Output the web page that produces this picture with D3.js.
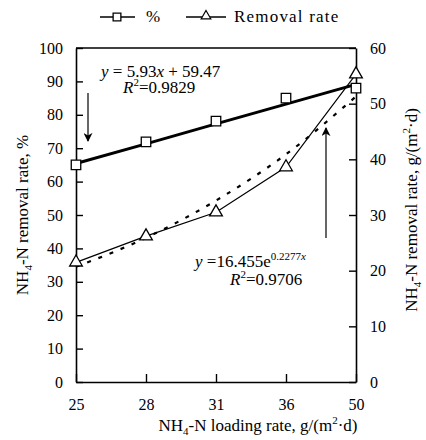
<!DOCTYPE html>
<html>
<head>
<meta charset="utf-8">
<script src="https://cdn.jsdelivr.net/npm/d3@7"></script>
<style>
  body { margin: 0; background: #fff; }
  svg, svg text { font-family: "Liberation Serif", "Times New Roman", serif; }
</style>
</head>
<body>
<svg id="chart" width="426" height="440" font-family="Liberation Serif"></svg>
<script>
// loading rate categories, g/(m2.d)
var loading = ["25", "28", "31", "36", "50"];
// NH4-N removal rate, %
var removalPct = [65.0, 71.9, 78.1, 85.0, 88.0];
// linear fit y = 5.93x + 59.47 read at each category
var pctFit = [65.4, 71.3, 77.3, 83.2, 89.1];
// NH4-N removal rate, g/(m2.d)
var removalRate = [21.5, 26.2, 30.5, 38.6, 55.3];
// exponential fit y = 16.455e^0.2277x read at each category
var rateFit = [20.7, 25.9, 32.6, 40.9, 51.3];
var leftTicks = [0, 10, 20, 30, 40, 50, 60, 70, 80, 90, 100];
var rightTicks = [0, 10, 20, 30, 40, 50, 60];

var serif = "Liberation Serif";
var svg = d3.select("#chart");
var plotL = 76, plotR = 356, plotT = 48, plotB = 382;

var x = d3.scalePoint().domain(loading).range([plotL, plotR]);
var yL = d3.scaleLinear().domain([0, 100]).range([plotB, plotT]);
var yR = d3.scaleLinear().domain([0, 60]).range([plotB, plotT]);

function styleAxis(g) {
    g.attr("font-family", serif);
    g.selectAll("path").attr("stroke", "#000").attr("stroke-width", 1.6);
    g.selectAll("line").attr("stroke", "#000").attr("stroke-width", 1.4);
    g.selectAll("text").attr("font-family", serif).attr("font-size", 16).attr("fill", "#000");
}

svg.append("g")
    .attr("transform", "translate(" + plotL + ",0)")
    .call(d3.axisLeft(yL).tickValues(leftTicks).tickSizeInner(-7).tickSizeOuter(0).tickPadding(13))
    .call(styleAxis);

svg.append("g")
    .attr("transform", "translate(" + plotR + ",0)")
    .call(d3.axisRight(yR).tickValues(rightTicks).tickSizeInner(-7).tickSizeOuter(0).tickPadding(14))
    .call(styleAxis);

svg.append("g")
    .attr("transform", "translate(0," + plotB + ")")
    .call(d3.axisBottom(x).tickSizeInner(-8).tickSizeOuter(0).tickPadding(17))
    .call(styleAxis);

// top border
svg.append("line")
    .attr("x1", plotL).attr("x2", plotR)
    .attr("y1", plotT).attr("y2", plotT)
    .attr("stroke", "#000").attr("stroke-width", 1.6);

var idx = d3.range(loading.length);

// fitted lines
svg.append("path")
    .attr("d", d3.line().x(function (i) { return x(loading[i]); }).y(function (i) { return yL(pctFit[i]); })(idx))
    .attr("fill", "none").attr("stroke", "#000").attr("stroke-width", 3);

svg.append("path")
    .attr("d", d3.line().curve(d3.curveMonotoneX).x(function (i) { return x(loading[i]); }).y(function (i) { return yR(rateFit[i]); })(idx))
    .attr("fill", "none").attr("stroke", "#000").attr("stroke-width", 2.2)
    .attr("stroke-dasharray", "4,8");

// removal rate data line
svg.append("path")
    .attr("d", d3.line().x(function (i) { return x(loading[i]); }).y(function (i) { return yR(removalRate[i]); })(idx))
    .attr("fill", "none").attr("stroke", "#000").attr("stroke-width", 1.2);

var square = d3.symbol().type(d3.symbolSquare).size(90);
var triangle = d3.symbol().type(d3.symbolTriangle).size(70);

svg.selectAll(".sq").data(idx).join("path")
    .attr("class", "sq")
    .attr("d", square)
    .attr("transform", function (i) { return "translate(" + x(loading[i]) + "," + yL(removalPct[i]) + ")"; })
    .attr("fill", "#fff").attr("stroke", "#000").attr("stroke-width", 1.3);

svg.selectAll(".tri").data(idx).join("path")
    .attr("class", "tri")
    .attr("d", triangle)
    .attr("transform", function (i) { return "translate(" + x(loading[i]) + "," + yR(removalRate[i]) + ")"; })
    .attr("fill", "#fff").attr("stroke", "#000").attr("stroke-width", 1.3);

// legend
var legend = svg.append("g").attr("font-family", serif);
legend.append("line").attr("x1", 100).attr("x2", 135).attr("y1", 17).attr("y2", 17).attr("stroke", "#000").attr("stroke-width", 1.5);
legend.append("path").attr("d", d3.symbol().type(d3.symbolSquare).size(60)).attr("transform", "translate(117,17)")
    .attr("fill", "#fff").attr("stroke", "#000").attr("stroke-width", 1.3);
legend.append("text").attr("x", 146).attr("y", 22).attr("font-size", 17).text("%");
legend.append("line").attr("x1", 186).attr("x2", 226).attr("y1", 17).attr("y2", 17).attr("stroke", "#000").attr("stroke-width", 1.5);
legend.append("path").attr("d", d3.symbol().type(d3.symbolTriangle).size(40)).attr("transform", "translate(206,16)")
    .attr("fill", "#fff").attr("stroke", "#000").attr("stroke-width", 1.2);
legend.append("text").attr("x", 234).attr("y", 22).attr("font-size", 17).attr("letter-spacing", 1.2).text("Removal rate");

// axis titles
var xt = svg.append("text").attr("x", 258).attr("y", 431).attr("text-anchor", "middle").attr("font-size", 17);
xt.append("tspan").text("NH");
xt.append("tspan").attr("font-size", 11).attr("dy", 4).text("4");
xt.append("tspan").attr("dy", -4).text("-N loading rate, g/(m");
xt.append("tspan").attr("font-size", 11).attr("dy", -7).text("2");
xt.append("tspan").attr("dy", 7).text("·d)");

var ylt = svg.append("text").attr("transform", "translate(28,215) rotate(-90)").attr("text-anchor", "middle").attr("font-size", 17);
ylt.append("tspan").text("NH");
ylt.append("tspan").attr("font-size", 11).attr("dy", 4).text("4");
ylt.append("tspan").attr("dy", -4).text("-N removal rate, %");

var yrt = svg.append("text").attr("transform", "translate(417,210) rotate(-90)").attr("text-anchor", "middle").attr("font-size", 17);
yrt.append("tspan").text("NH");
yrt.append("tspan").attr("font-size", 11).attr("dy", 4).text("4");
yrt.append("tspan").attr("dy", -4).text("-N removal rate, g/(m");
yrt.append("tspan").attr("font-size", 11).attr("dy", -7).text("2");
yrt.append("tspan").attr("dy", 7).text("·d)");

// arrows
svg.append("defs").append("marker")
    .attr("id", "head").attr("viewBox", "0 0 10 10").attr("refX", 9).attr("refY", 5)
    .attr("markerWidth", 9).attr("markerHeight", 9).attr("markerUnits", "userSpaceOnUse")
    .attr("orient", "auto")
    .append("path").attr("d", "M0,0 L10,5 L0,10 L3,5 Z").attr("fill", "#000");

svg.append("line").attr("x1", 88).attr("x2", 88).attr("y1", 93).attr("y2", 141)
    .attr("stroke", "#000").attr("stroke-width", 1.2).attr("marker-end", "url(#head)");
svg.append("line").attr("x1", 326).attr("x2", 326).attr("y1", 238).attr("y2", 128)
    .attr("stroke", "#000").attr("stroke-width", 1.2).attr("marker-end", "url(#head)");

// equations
var e1 = svg.append("text").attr("x", 101).attr("y", 77).attr("font-size", 17);
e1.append("tspan").attr("font-style", "italic").text("y");
e1.append("tspan").text(" = 5.93");
e1.append("tspan").attr("font-style", "italic").text("x");
e1.append("tspan").text(" + 59.47");
var r1 = svg.append("text").attr("x", 123).attr("y", 93).attr("font-size", 17);
r1.append("tspan").attr("font-style", "italic").text("R");
r1.append("tspan").attr("font-size", 11).attr("dy", -7).text("2");
r1.append("tspan").attr("dy", 7).text("=0.9829");

var e2 = svg.append("text").attr("x", 195).attr("y", 267).attr("font-size", 17);
e2.append("tspan").attr("font-style", "italic").text("y");
e2.append("tspan").text(" =16.455e");
e2.append("tspan").attr("font-size", 11).attr("dy", -7).text("0.2277");
e2.append("tspan").attr("font-size", 11).attr("font-style", "italic").text("x");
var r2 = svg.append("text").attr("x", 230).attr("y", 285).attr("font-size", 17);
r2.append("tspan").attr("font-style", "italic").text("R");
r2.append("tspan").attr("font-size", 11).attr("dy", -7).text("2");
r2.append("tspan").attr("dy", 7).text("=0.9706");
</script>
</body>
</html>
